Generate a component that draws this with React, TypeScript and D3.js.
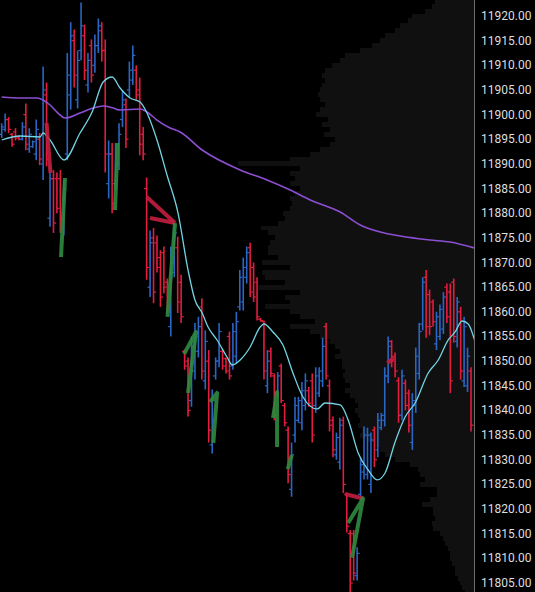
import React from "react";
import * as d3 from "d3";

const W = 535;
const H = 592;

// OHLC bars (one per bar, in time order)
const highs = [11898.25,11900.25,11899.5,11896.25,11897.25,11895.75,11898.5,11902.25,11897.25,11894.75,11899,11896.25,11909.75,11906.5,11889.5,11888.75,11888.25,11888.75,11886.75,11912.5,11918.75,11917.25,11913,11922.75,11918.25,11912.5,11915.25,11916.25,11919.5,11918.75,11915.25,11894.75,11894.25,11894.25,11898.25,11905,11903.25,11910.75,11914,11910,11907.5,11897.5,11887.25,11876.5,11877,11875.5,11872.5,11873.25,11866.75,11873.25,11878,11875.25,11867.5,11852.25,11850.75,11855,11857.75,11859,11862.75,11856.25,11852.25,11844.25,11850.75,11857.75,11852.25,11850.75,11856,11857.75,11860,11868.5,11871,11873.25,11874,11870,11867,11858.75,11858.25,11852.25,11852.75,11847.5,11847.75,11849.5,11841.5,11836.75,11833.5,11842.75,11842.75,11845.75,11847.5,11844.75,11847.5,11848.75,11848.75,11854.75,11857.75,11846.25,11838.75,11835.5,11838.5,11838.75,11823.25,11815.75,11815.75,11812.25,11830.5,11836.75,11836.5,11835.5,11836.75,11839.5,11839.5,11848.75,11855,11854.25,11851.75,11846.75,11848.25,11846.25,11844.25,11843.5,11852.75,11857.75,11867,11868.5,11864.5,11862.5,11860,11861.5,11864,11865.75,11865.75,11866.75,11863,11861,11859,11852.75,11848.75];
const lows = [11895.25,11896.5,11896.25,11893.5,11894.75,11894.75,11894.75,11892.75,11892.25,11893.25,11890.75,11889.75,11886.75,11889.5,11877.25,11876,11880,11876,11875.5,11890.75,11901,11905.5,11901.25,11911,11907,11904.5,11906.5,11908.5,11912.5,11910.75,11888.25,11883,11880,11884.75,11888.75,11897.5,11893.25,11903.5,11906,11903,11891.75,11890.75,11866.5,11863,11861.75,11868,11861,11863.75,11859.75,11855,11867,11859.75,11857.75,11848.25,11838.75,11840.75,11846.25,11850.75,11846.25,11844.25,11833.5,11831.25,11846.25,11848.75,11848.25,11847.5,11846.25,11848.25,11849.5,11860.25,11860.25,11865.75,11863,11862,11858.25,11858,11846.25,11843.5,11846.75,11838,11842.75,11841.5,11836.75,11825.25,11822.5,11833.5,11837.5,11836,11840,11840.75,11833.5,11839.5,11842.75,11844.75,11846.25,11835.75,11830.5,11830,11828,11823.25,11815.25,11803,11805.5,11805.5,11821.75,11826,11826,11823.25,11828.5,11830.5,11836,11836.75,11845.5,11848.75,11846.75,11837.5,11838,11840,11835.5,11832,11839.5,11846.25,11856.25,11854.75,11855.25,11857,11852.25,11854.25,11855.5,11857.75,11843.5,11853.75,11852.75,11846.25,11844.75,11843.75,11835.75];
const opens = [11896,11897,11899,11896,11896.5,11895.5,11895,11900,11893,11893.5,11892,11895,11890,11904,11879,11887,11887,11887,11877,11892,11904,11915,11903,11913,11916,11906,11914,11910,11914,11917,11913,11886,11892,11886,11890,11899,11902,11905,11907,11909,11905,11896,11885,11865,11875,11874,11871,11872,11866,11857,11868,11873,11866,11852,11850,11842,11848,11852,11861,11846,11850,11833,11847,11850,11852,11850.5,11855,11849,11851,11861,11862,11867,11873,11869,11866,11858.5,11858,11845,11852,11847,11843.5,11849,11841,11836,11824,11835,11838,11837.5,11841,11844,11846,11841,11843.5,11846,11857,11845,11838,11831,11829.5,11838,11823,11815,11815,11806.5,11823,11827.5,11827,11825,11836,11832,11836.5,11838,11847,11854,11851,11846,11839,11845.5,11843.5,11833.5,11841,11847.5,11857.5,11867,11863.5,11862,11853.5,11855,11856.5,11865,11864,11866,11854,11860,11846,11845,11848];
const closes = [11897.5,11899,11897,11894,11895.25,11895,11897.5,11894,11896,11894.5,11897,11891,11905,11891,11887,11878,11881,11879,11885,11908,11916,11908,11911,11918,11909,11911,11908,11914,11918,11913,11892,11892,11882,11892,11896,11903,11895,11909,11912,11904,11894,11892,11869,11874,11864,11869,11863,11865,11861,11870,11876,11862,11859,11849,11840,11853,11855,11857,11848,11854,11836,11842,11850,11856,11849,11848,11847,11856,11858,11867,11869,11872,11864,11863,11859,11858.25,11848,11850,11847.5,11839,11847,11842,11837.5,11827,11831,11841,11842,11844,11846,11841.5,11835,11847,11848,11853,11847,11837,11832,11834.5,11837,11825,11816.5,11805,11807,11811,11829,11835,11835,11834,11830,11838,11839,11847,11853,11850,11848,11839,11847,11841,11837,11842,11851,11856,11866,11857,11857,11858,11859,11860.5,11863,11859,11846,11855,11862,11848,11857,11851,11837];

// Fast moving average (cyan), sampled at bar positions
const fastMaIdx = [0,5.3,11.1,12,14,18.06,22.7,26.2,29.4,32,34.3,37.2,40.1,42.1,45,47.9,51.1,54,56,58.1,59.8,62.4,65.3,66.8,69.1,72,74.9,76,78.6,81.5,84.4,87.3,91.4,93.7,98.1,100.4,103.3,106.2,108.8,111.1,114,116.9,119.8,123.6,126.5,129.4,131.4,133.4,135.2,137.2];
const fastMaVal = [11894.85,11895.66,11895.46,11896.27,11894.85,11890.79,11896.27,11900.53,11906.61,11907.63,11905.39,11903.37,11902.55,11900.32,11894.85,11887.75,11880.04,11868.48,11862.4,11859.76,11856.92,11854.29,11850.84,11849.22,11850.23,11852.87,11856.92,11857.53,11855.91,11853.27,11847.6,11842.73,11840.3,11841.51,11841.11,11838.06,11831.37,11827.92,11825.9,11827.32,11833.6,11838.67,11841.51,11847.6,11850.23,11854.29,11855.91,11858.14,11857.53,11853.87];

// Slow moving average (purple)
const slowMaIdx = [0,5.3,10.2,12,14,16.3,18.3,22.7,26.5,29.4,32.3,34.3,40.1,42.1,45,48.8,51.7,58.1,69.1,76.9,83.6,89.4,98.1,103.9,109.7,115.5,124.1,129.9,137.2];
const slowMaVal = [11903.57,11903.37,11903.37,11902.96,11901.95,11900.32,11899.31,11900.32,11901.34,11901.74,11901.34,11900.93,11901.13,11900.53,11898.9,11897.28,11896.47,11892.82,11888.76,11886.74,11884.71,11882.68,11880.25,11877.61,11876.19,11875.38,11874.57,11874.16,11872.9];

// Swing / pattern lines
const swingKind = ["down","up","up","down","down","up","up","up","up","up","down","up","down"];
const swingIdx = [[12.99,14.14],[18.35,17.19],[33.57,32.84],[42.03,50.23],[42.99,50.23],[50.23,48.06],[52.84,56.32,54],[60.38,62.41,61.33],[78.64,79.8,79.8],[82.9,84.06],[99.5,104.7],[100.4,104.7,101.5],[111.8,113.7]];
const swingPrice = [[11898.3,11888.16],[11887.14,11871.12],[11894.24,11880.65],[11883.29,11878.02],[11879.03,11878.02],[11878.02,11858.96],[11851.45,11855.91,11843.54],[11841.71,11843.54,11833.4],[11838.47,11843.74,11832.59],[11828.13,11830.97],[11823.06,11822.15],[11817.17,11822.15,11810.08],[11849.63,11850.74]];

// Volume profile, one value per price level from 11923 down to 11803
const profileTopLevel = 11923;
const profileVolumes = [39,42,49,62,66,74,79,89,94,102,114,129,134,142,149,152,149,152,154,156,154,149,154,158,146,152,144,150,139,144,154,164,184,236,174,184,179,184,174,179,184,182,184,191,189,196,213,206,199,204,206,206,196,212,184,212,209,189,216,174,189,184,209,184,174,159,184,164,154,144,139,134,139,132,132,129,131,129,124,129,124,119,116,119,116,114,116,112,114,106,99,94,89,79,64,56,54,49,54,37,37,44,52,41,41,39,42,41,34,31,29,26,24,24,22,19,19,16,14,12,9];

const priceTicks = [11920,11915,11910,11905,11900,11895,11890,11885,11880,11875,11870,11865,11860,11855,11850,11845,11840,11835,11830,11825,11820,11815,11810,11805];

const COLORS = {
  up: "#2a66c4",
  down: "#e31d40",
  fast: "#72d4e4",
  slow: "#8d4fd2",
  swingUp: "#2f8a3e",
  swingDown: "#c21e3e",
  profile: "#101010",
  axis: "#6b6b6b",
  text: "#dedede",
};

export default function App() {
  const plotRight = 474;
  const x = d3.scaleLinear().domain([0, highs.length - 1]).range([1.7, 471]);
  const y = d3.scaleLinear().domain([11805, 11920]).range([583, 16]);
  const vol = d3.scaleLinear().domain([0, 300]).range([0, 300]);

  const lineGen = d3
    .line<[number, number]>()
    .x((d) => x(d[0]))
    .y((d) => y(d[1]))
    .curve(d3.curveMonotoneX);
  const straight = d3
    .line<[number, number]>()
    .x((d) => x(d[0]))
    .y((d) => y(d[1]));

  const fastPts = fastMaIdx.map((t, i) => [t, fastMaVal[i]] as [number, number]);
  const slowPts = slowMaIdx.map((t, i) => [t, slowMaVal[i]] as [number, number]);
  const levels = profileVolumes.map((_, i) => profileTopLevel - i);

  return (
    <svg
      width={W}
      height={H}
      style={{ position: "absolute", left: 0, top: 0, display: "block" }}
    >
      <defs>
        <clipPath id="plot">
          <rect x={0} y={0} width={plotRight} height={H} />
        </clipPath>
      </defs>
      <rect x={0} y={0} width={W} height={H} fill="#000" />
      <g clipPath="url(#plot)">
        {levels.map((lv, i) => {
          const y0 = y(lv + 0.5);
          const y1 = y(lv - 0.5);
          const w = vol(profileVolumes[i]);
          return (
            <rect
              key={"p" + i}
              x={plotRight - w}
              y={y0}
              width={w}
              height={y1 - y0}
              fill={COLORS.profile}
              shapeRendering="crispEdges"
            />
          );
        })}
        {highs.map((h, i) => {
          const cx = x(i);
          const col = closes[i] >= opens[i] ? COLORS.up : COLORS.down;
          return (
            <g key={"b" + i} stroke={col}>
              <line x1={cx} x2={cx} y1={y(h)} y2={y(lows[i])} strokeWidth={1.6} />
              <line x1={cx - 2.6} x2={cx} y1={y(opens[i])} y2={y(opens[i])} strokeWidth={1.2} />
              <line x1={cx} x2={cx + 2.6} y1={y(closes[i])} y2={y(closes[i])} strokeWidth={1.2} />
            </g>
          );
        })}
        <path d={lineGen(slowPts) || ""} fill="none" stroke={COLORS.slow} strokeWidth={1.6} />
        <path d={lineGen(fastPts) || ""} fill="none" stroke={COLORS.fast} strokeWidth={1.3} />
        {swingIdx.map((ts, i) => {
          const pts = ts.map((t, j) => [t, swingPrice[i][j]] as [number, number]);
          return (
            <path
              key={"s" + i}
              d={straight(pts) || ""}
              fill="none"
              stroke={swingKind[i] === "up" ? COLORS.swingUp : COLORS.swingDown}
              strokeWidth={4}
              strokeLinejoin="round"
              opacity={0.9}
            />
          );
        })}
      </g>
      <line x1={plotRight + 0.5} x2={plotRight + 0.5} y1={0} y2={H} stroke={COLORS.axis} strokeWidth={1} />
      {priceTicks.map((p) => (
        <text
          key={"t" + p}
          x={481}
          y={y(p)}
          dominantBaseline="central"
          fill={COLORS.text}
          fontFamily="Roboto, 'Noto Sans', sans-serif"
          fontSize={12}
        >
          {p.toFixed(2)}
        </text>
      ))}
    </svg>
  );
}
